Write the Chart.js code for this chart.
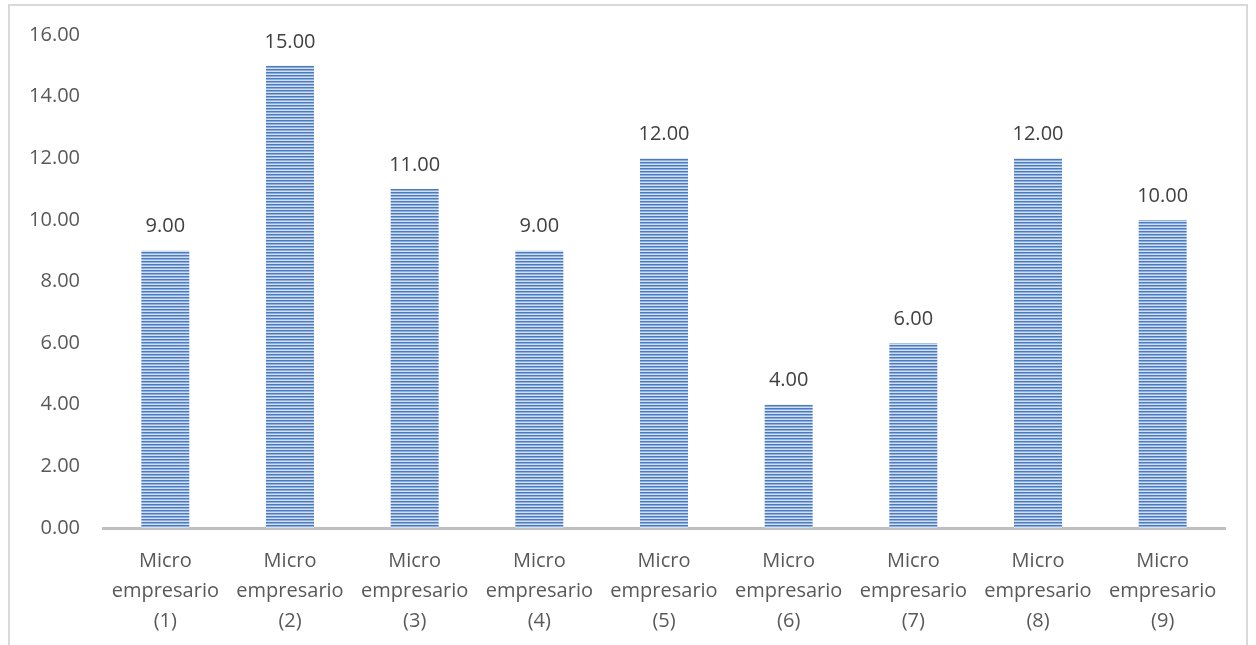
<!DOCTYPE html>
<html>
<head>
<meta charset="utf-8">
<script src="https://cdn.jsdelivr.net/npm/chart.js@4/dist/chart.umd.min.js"></script>
<style>
  html, body { margin: 0; padding: 0; background: white; overflow: hidden; }
  #wrap { position: relative; width: 1256px; height: 645px; }
  #frame { position: absolute; left: 8px; top: 4px; width: 1236px; height: 700px; border: 2px solid #d9d9d9; }
  #barchart { position: absolute; left: 0; top: 0; }
</style>
</head>
<body>
<div id="wrap">
  <div id="frame"></div>
  <canvas id="barchart" width="1256" height="645"></canvas>
</div>
<script>
const categories = [
  ["Micro", "empresario", "(1)"],
  ["Micro", "empresario", "(2)"],
  ["Micro", "empresario", "(3)"],
  ["Micro", "empresario", "(4)"],
  ["Micro", "empresario", "(5)"],
  ["Micro", "empresario", "(6)"],
  ["Micro", "empresario", "(7)"],
  ["Micro", "empresario", "(8)"],
  ["Micro", "empresario", "(9)"],
];
const values = [9, 15, 11, 9, 12, 4, 6, 12, 10];
const yMin = 0;
const yMax = 16;
const yStep = 2;

const ctx = document.getElementById("barchart");
const fontFamily = "'Open Sans', sans-serif";

// striped fill like the original
function stripes() {
  const c = document.createElement("canvas");
  c.width = 4;
  c.height = 3;
  const g = c.getContext("2d");
  g.fillStyle = "#4a7bc0";
  g.fillRect(0, 0, 4, 1);
  g.fillStyle = "#8eaedc";
  g.fillRect(0, 1, 4, 1);
  g.fillStyle = "#d3dff1";
  g.fillRect(0, 2, 4, 1);
  return g.createPattern(c, "repeat");
}

const valueLabels = {
  id: "valueLabels",
  afterDatasetsDraw(chart) {
    const c = chart.ctx;
    c.save();
    c.font = "20px " + fontFamily;
    c.fillStyle = "#404040";
    c.textAlign = "center";
    c.textBaseline = "middle";
    chart.getDatasetMeta(0).data.forEach(function (bar, i) {
      c.fillText(values[i].toFixed(2), bar.x, bar.y - 24);
    });
    c.restore();
  },
};

Chart.defaults.font.family = fontFamily;

new Chart(ctx, {
  type: "bar",
  data: {
    labels: categories,
    datasets: [
      {
        data: values,
        backgroundColor: stripes(),
        borderWidth: 0,
        categoryPercentage: 1,
        barPercentage: 0.385,
      },
    ],
  },
  options: {
    responsive: false,
    animation: false,
    layout: { padding: { left: 0, right: 31, top: 33, bottom: 0 } },
    plugins: {
      legend: { display: false },
      tooltip: { enabled: false },
    },
    scales: {
      x: {
        grid: { display: false, drawTicks: false },
        border: { display: true, color: "#bfbfbf", width: 3 },
        ticks: {
          color: "#595959",
          font: { size: 20, lineHeight: 1.5 },
          padding: 18,
          maxRotation: 0,
        },
        afterFit(s) { s.height = 117; },
      },
      y: {
        min: yMin,
        max: yMax,
        grid: { display: false, drawTicks: false },
        border: { display: false },
        ticks: {
          stepSize: yStep,
          color: "#595959",
          font: { size: 20 },
          padding: 23,
          callback: function (v) { return v.toFixed(2); },
        },
        afterFit(s) { s.width = 103; },
      },
    },
  },
  plugins: [valueLabels],
});
</script>
</body>
</html>
